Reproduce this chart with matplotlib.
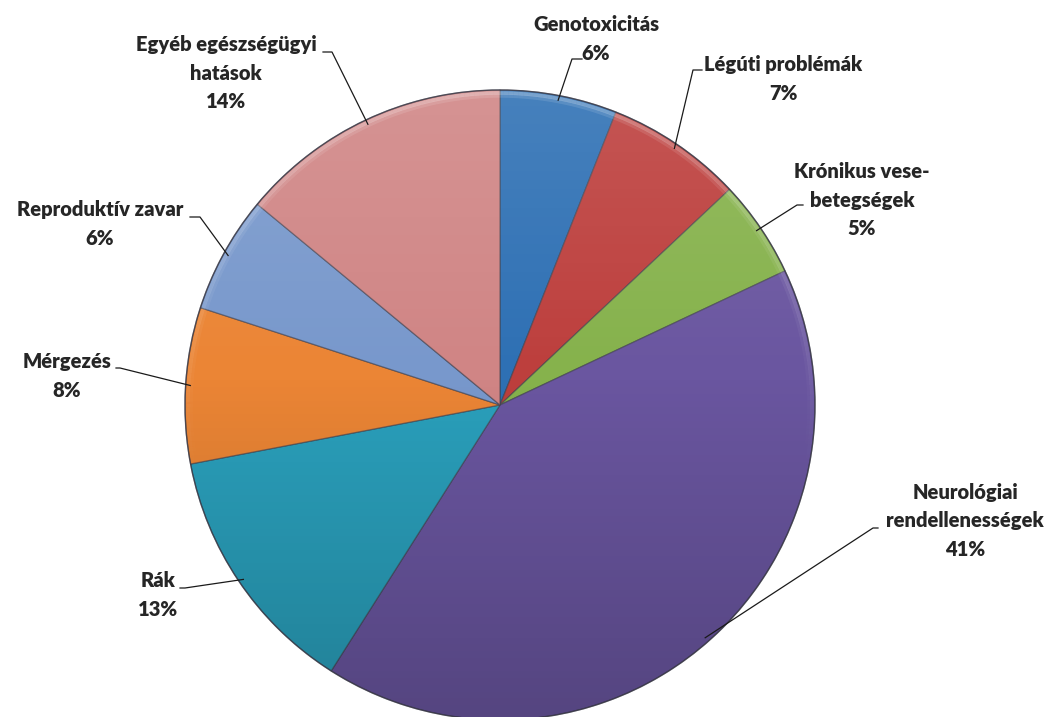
import matplotlib
matplotlib.use("Agg")
import matplotlib.pyplot as plt
import numpy as np
from matplotlib.patches import Circle

plt.rcParams['font.family'] = ['Lato', 'DejaVu Sans']

W, H = 1059, 717

labels = ['Genotoxicitás', 'Légúti problémák', 'Krónikus vese-\nbetegségek',
          'Neurológiai\nrendellenességek', 'Rák', 'Mérgezés',
          'Reproduktív zavar', 'Egyéb egészségügyi\nhatások']
shares = [6, 7, 5, 41, 13, 8, 6, 14]
colors = ['#2e70b4', '#bd3f3d', '#86b24c', '#6a56a0', '#2aa0bc',
          '#eb8535', '#7898cc', '#d08585']

# label centre, elbow of the leader line, end of the short horizontal tick
label_xy = [(596, 39), (783, 79), (862, 200), (965, 521),
            (158, 595), (67, 376), (100, 224), (226, 73)]
elbow_xy = [(572, 59), (693, 70), (797, 205), (873, 528),
            (185, 588), (120, 368), (200, 217), (332, 52)]
tick_xy = [(582, 59), (702, 70), (803, 205), (878, 528),
           (180, 588), (116, 368), (190, 217), (323, 52)]

cx, cy, R = 500, H - 405, 315


def px(p):
    return p[0], H - p[1]


fig = plt.figure(figsize=(W / 100, H / 100), dpi=100)
ax = fig.add_axes([0, 0, 1, 1])

wedges, _ = ax.pie(shares, colors=colors, startangle=90, counterclock=False,
                   center=(cx, cy), radius=R,
                   wedgeprops=dict(edgecolor=(0.25, 0.25, 0.3, 0.6), linewidth=0.9))

# soft top-to-bottom shading over the whole pie
n = 256
t = np.linspace(0, 1, n)
shade = np.zeros((n, 1, 4))
top = t < 0.45
shade[top, 0, :3] = 1.0
shade[top, 0, 3] = 0.12 * (1 - t[top] / 0.45)
shade[~top, 0, 3] = 0.2 * (t[~top] - 0.45) / 0.55
im = ax.imshow(shade, extent=[cx - R, cx + R, cy - R, cy + R], origin='upper',
               aspect='auto', zorder=3, interpolation='bilinear')
clip = Circle((cx, cy), R, transform=ax.transData)
im.set_clip_path(clip)

# bevel highlight along the rim
rim = np.linspace(0, 2 * np.pi, 400)
for dr, a in [(3, 0.28), (6, 0.12)]:
    xs = cx + (R - dr) * np.cos(rim)
    ys = cy + (R - dr) * np.sin(rim)
    for i in range(len(rim) - 1):
        s = np.sin(rim[i])
        if s > -0.2:
            ax.plot(xs[i:i + 2], ys[i:i + 2], color='white',
                    alpha=a * (s + 0.2) / 1.2, lw=2.5, zorder=4,
                    solid_capstyle='butt')
ax.add_patch(Circle((cx, cy), R, fill=False, edgecolor=(0.2, 0.2, 0.25, 0.7),
                    lw=1.0, zorder=5))

for w, lab, pct, lxy, exy, txy in zip(wedges, labels, shares,
                                      label_xy, elbow_xy, tick_xy):
    mid = np.deg2rad((w.theta1 + w.theta2) / 2)
    sx, sy = cx + 0.985 * R * np.cos(mid), cy + 0.985 * R * np.sin(mid)
    ex, ey = px(exy)
    tx, ty = px(txy)
    ax.plot([sx, ex, tx], [sy, ey, ty], color='#1a1a1a', lw=0.9, zorder=6)
    lx, ly = px(lxy)
    ax.text(lx, ly, f'{lab}\n{pct}%', ha='center', va='center',
            fontsize=14.5, fontweight='heavy', color='#262626',
            linespacing=1.6, zorder=7)

ax.set_xlim(0, W)
ax.set_ylim(0, H)
ax.set_aspect('auto')
ax.axis('off')

fig.savefig('out.png', dpi=100, facecolor='white')
